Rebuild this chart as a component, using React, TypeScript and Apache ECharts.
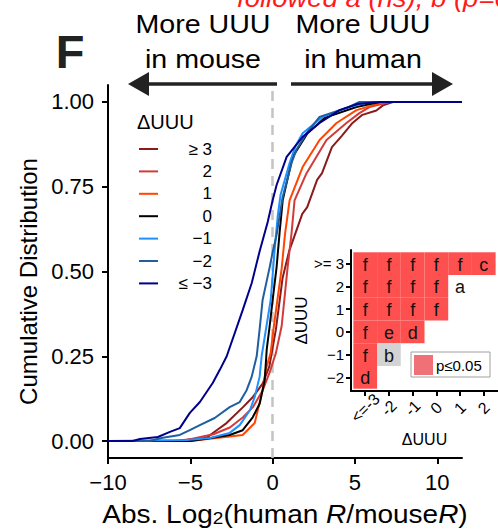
import React, { useEffect, useRef } from 'react';
import * as echarts from 'echarts';

const FONT = '"Liberation Sans", Arial, Helvetica, sans-serif';

// ECDF curves (x = Abs. Log2(human R / mouse R), y = cumulative fraction)
const groupLabels = ['≥ 3', '2', '1', '0', '−1', '−2', '≤ −3'];
const groupColors = ['#8B1A1A', '#D33A3A', '#FF4500', '#000000', '#1E90FF', '#1F5FA0', '#00008B'];

const ge3X = [-10, -6, -4, -3.4, -2.8, -1.8, -1.2, -0.6, -0.2, 0.2, 0.6, 1.0, 1.8, 2.1, 2.7, 3.0, 3.6, 4.2, 4.85, 5.45, 6.3, 6.7, 7.3, 11.5];
const ge3Y = [0, 0, 0.01, 0.032, 0.053, 0.1, 0.13, 0.17, 0.22, 0.33, 0.48, 0.56, 0.67, 0.69, 0.77, 0.79, 0.867, 0.9, 0.938, 0.962, 0.975, 0.99, 1, 1];

const p2X = [-10, -5.5, -3.6, -2.6, -1.8, -1.2, -0.6, -0.2, 0.2, 0.55, 0.91, 1.15, 1.33, 2.06, 3.27, 4.48, 5.27, 5.88, 7.1, 11.5];
const p2Y = [0, 0, 0.02, 0.04, 0.07, 0.1, 0.15, 0.2, 0.26, 0.34, 0.513, 0.614, 0.71, 0.79, 0.888, 0.938, 0.967, 0.985, 1, 1];

const p1X = [-10, -5, -1.82, -1.09, -0.61, -0.42, -0.12, 0.05, 0.3, 0.55, 0.75, 1.03, 1.82, 2.85, 3.88, 5.09, 6.8, 11.5];
const p1Y = [0, 0, 0.018, 0.053, 0.15, 0.21, 0.26, 0.33, 0.42, 0.51, 0.61, 0.71, 0.808, 0.888, 0.938, 0.976, 1, 1];

const z0X = [-10, -5.0, -3.64, -2.61, -1.82, -1.21, -0.79, -0.48, -0.36, -0.18, 0, 0.24, 0.42, 0.61, 1.21, 2.12, 3.15, 5.09, 6.5, 11.5];
const z0Y = [0, 0, 0.01, 0.018, 0.032, 0.07, 0.11, 0.18, 0.27, 0.34, 0.416, 0.513, 0.614, 0.71, 0.838, 0.908, 0.953, 0.985, 1, 1];

const m1X = [-10, -5.21, -3.82, -2.61, -2.0, -1.39, -1.09, -0.79, -0.67, -0.12, 0.12, 0.30, 0.48, 1.03, 1.39, 1.82, 3.03, 4.67, 5.9, 11.5];
const m1Y = [0, 0.003, 0.009, 0.024, 0.047, 0.09, 0.13, 0.19, 0.25, 0.416, 0.563, 0.66, 0.726, 0.82, 0.87, 0.908, 0.956, 0.985, 1, 1];

const m2X = [-10, -7.5, -6.67, -5.64, -5.03, -4.42, -3.52, -2.61, -2.0, -1.58, -1.27, -0.97, -0.79, -0.61, -0.18, 0, 0.24, 0.61, 1.15, 1.45, 2.06, 2.85, 4.48, 5.27, 11.5];
const m2Y = [0, 0, 0.01, 0.018, 0.032, 0.047, 0.068, 0.10, 0.115, 0.15, 0.19, 0.25, 0.33, 0.416, 0.513, 0.557, 0.608, 0.72, 0.82, 0.86, 0.908, 0.956, 0.982, 1, 1];

const le3X = [-10, -8.5, -8.06, -6.97, -6.24, -5.64, -5.03, -4.42, -3.64, -3.21, -2.79, -1.82, -1.27, -0.79, -0.30, 0, 0.24, 0.85, 1.82, 2.85, 4.06, 5.15, 6.5, 11.5];
const le3Y = [0, 0, 0.006, 0.012, 0.027, 0.038, 0.083, 0.115, 0.171, 0.21, 0.25, 0.386, 0.466, 0.56, 0.646, 0.71, 0.755, 0.838, 0.897, 0.938, 0.976, 0.994, 1, 1];

const curveXs = [ge3X, p2X, p1X, z0X, m1X, m2X, le3X];
const curveYs = [ge3Y, p2Y, p1Y, z0Y, m1Y, m2Y, le3Y];

const mainXTicks = [-10, -5, 0, 5, 10];
const mainYTicks = [0, 0.25, 0.5, 0.75, 1];

// Inset: pairwise comparison letters
const insetXLabels = ['<=-3', '-2', '-1', '0', '1', '2'];
const insetYLabels = ['−2', '−1', '0', '1', '2', '>= 3'];
const insetCells: [string, string, string, string][] = [
  ['<=-3', '>= 3', 'f', 'sig'], ['-2', '>= 3', 'f', 'sig'], ['-1', '>= 3', 'f', 'sig'], ['0', '>= 3', 'f', 'sig'], ['1', '>= 3', 'f', 'sig'], ['2', '>= 3', 'c', 'sig'],
  ['<=-3', '2', 'f', 'sig'], ['-2', '2', 'f', 'sig'], ['-1', '2', 'f', 'sig'], ['0', '2', 'f', 'sig'], ['1', '2', 'a', 'ns'],
  ['<=-3', '1', 'f', 'sig'], ['-2', '1', 'f', 'sig'], ['-1', '1', 'f', 'sig'], ['0', '1', 'f', 'sig'],
  ['<=-3', '0', 'f', 'sig'], ['-2', '0', 'e', 'sig'], ['-1', '0', 'd', 'sig'],
  ['<=-3', '−1', 'f', 'sig'], ['-2', '−1', 'b', 'grey'],
  ['<=-3', '−2', 'd', 'sig'],
];
const insetIdx = [0, 1, 2, 3, 4, 5];

const SIG_RED = '#FF5050';
const GREY = '#D3D3D3';

export default function App() {
  const ref = useRef<HTMLDivElement>(null);
  useEffect(() => {
    if (!ref.current) return;
    const chart = echarts.init(ref.current, undefined, { renderer: 'svg' });

    const curveSeries = groupLabels.map((name, i) => ({
      type: 'line',
      name,
      xAxisIndex: 0,
      yAxisIndex: 0,
      data: curveXs[i].map((x, k) => [x, curveYs[i][k]]),
      showSymbol: false,
      symbol: 'none',
      lineStyle: { color: groupColors[i], width: 2 },
      z: 3,
      silent: true,
    }));

    const legendGraphics: any[] = [];
    legendGraphics.push({
      type: 'text', x: 137, y: 122,
      style: { text: 'ΔUUU', font: `20px ${FONT}`, fill: '#000', align: 'left', verticalAlign: 'middle' },
    });
    groupLabels.forEach((lab, i) => {
      const yy = 149 + i * 22.4;
      legendGraphics.push({
        type: 'line', shape: { x1: 139, y1: yy, x2: 158, y2: yy },
        style: { stroke: groupColors[i], lineWidth: 2 },
      });
      legendGraphics.push({
        type: 'text', x: 212, y: yy,
        style: { text: lab, font: `17px ${FONT}`, fill: '#000', align: 'right', verticalAlign: 'middle' },
      });
    });

    const bigText = (t: string, x: number, y: number) => ({
      type: 'text', x, y, scaleX: 1.1,
      style: { text: t, font: `26px ${FONT}`, fill: '#000', align: 'center', verticalAlign: 'middle' },
    });

    const option: any = {
      animation: false,
      backgroundColor: '#ffffff',
      textStyle: { fontFamily: FONT },
      grid: [
        { left: 108, top: 85, width: 354, height: 373 },
        { left: 351, top: 250, width: 151, height: 141 },
      ],
      xAxis: [
        {
          type: 'value', gridIndex: 0, min: -10, max: 11.5,
          axisLine: { onZero: false, lineStyle: { color: '#000', width: 2 } },
          axisTick: { customValues: mainXTicks, length: 6, lineStyle: { color: '#000', width: 2 } },
          axisLabel: {
            customValues: mainXTicks, fontSize: 22, color: '#000', margin: 13, fontFamily: FONT,
            formatter: (v: number) => String(v).replace('-', '−'),
          },
          splitLine: { show: false },
        },
        {
          type: 'value', gridIndex: 1, min: -0.6, max: 5.6,
          axisLine: { onZero: false, lineStyle: { color: '#000', width: 2 } },
          axisTick: { customValues: insetIdx, length: 5, lineStyle: { color: '#000', width: 2 } },
          axisLabel: {
            customValues: insetIdx, fontSize: 16, color: '#000', margin: 17, rotate: 45, align: 'center',
            fontFamily: FONT,
            formatter: (v: number) => insetXLabels[Math.round(v)] ?? '',
          },
          splitLine: { show: false },
          name: 'ΔUUU', nameLocation: 'middle', nameGap: 40,
          nameTextStyle: { fontSize: 16, color: '#000', fontFamily: FONT },
        },
      ],
      yAxis: [
        {
          type: 'value', gridIndex: 0, min: -0.05, max: 1.05,
          axisLine: { onZero: false, lineStyle: { color: '#000', width: 2 } },
          axisTick: { customValues: mainYTicks, length: 6, lineStyle: { color: '#000', width: 2 } },
          axisLabel: {
            customValues: mainYTicks, fontSize: 22, color: '#000', margin: 14, fontFamily: FONT,
            formatter: (v: number) => v.toFixed(2),
          },
          splitLine: { show: false },
          name: 'Cumulative Distribution', nameLocation: 'middle', nameGap: 66,
          nameTextStyle: { fontSize: 24, color: '#000', fontFamily: FONT, padding: [0, 20, 0, 0] },
        },
        {
          type: 'value', gridIndex: 1, min: -0.6, max: 5.6,
          axisLine: { onZero: false, lineStyle: { color: '#000', width: 2 } },
          axisTick: { customValues: insetIdx, length: 5, lineStyle: { color: '#000', width: 2 } },
          axisLabel: {
            customValues: insetIdx, fontSize: 15, color: '#000', margin: 7, fontFamily: FONT,
            formatter: (v: number) => insetYLabels[Math.round(v)] ?? '',
          },
          splitLine: { show: false },
          name: 'ΔUUU', nameLocation: 'middle', nameGap: 39,
          nameTextStyle: { fontSize: 17, color: '#000', fontFamily: FONT },
        },
      ],
      series: [
        {
          type: 'line', xAxisIndex: 0, yAxisIndex: 0, data: [], z: 1, silent: true,
          markLine: {
            silent: true, symbol: ['none', 'none'], label: { show: false },
            lineStyle: { color: '#C4C4C4', type: [10, 7], width: 2.5 },
            data: [{ xAxis: 0 }],
            z: 1,
          },
        },
        ...curveSeries,
        {
          type: 'custom', xAxisIndex: 1, yAxisIndex: 1, z: 10, silent: true,
          data: insetCells.map((c) => [insetXLabels.indexOf(c[0]), insetYLabels.indexOf(c[1])]),
          encode: { x: 0, y: 1 },
          renderItem: (params: any, api: any) => {
            const cell = insetCells[params.dataIndex];
            const c = api.coord([api.value(0), api.value(1)]);
            const s = api.size([1, 1]);
            const fill = cell[3] === 'sig' ? SIG_RED : cell[3] === 'grey' ? GREY : 'rgba(255,255,255,0)';
            return {
              type: 'group',
              children: [
                {
                  type: 'rect',
                  shape: { x: c[0] - s[0] / 2, y: c[1] - s[1] / 2, width: s[0], height: s[1] },
                  style: { fill },
                },
                {
                  type: 'text', x: c[0], y: c[1] + 1,
                  style: { text: cell[2], font: `18px ${FONT}`, fill: '#111', align: 'center', verticalAlign: 'middle' },
                },
              ],
            };
          },
        },
      ],
      graphic: [
        {
          type: 'text', x: 237, y: -2, scaleX: 1.1,
          style: { text: 'followed a (ns), b (p=0.05)', font: `italic 25px ${FONT}`, fill: '#FF1A1A', align: 'left', verticalAlign: 'middle' },
        },
        {
          type: 'text', x: 70, y: 51,
          style: { text: 'F', font: `bold 47px ${FONT}`, fill: '#222', align: 'center', verticalAlign: 'middle' },
        },
        bigText('More UUU', 203, 24),
        bigText('in mouse', 203, 59),
        bigText('More UUU', 363, 24),
        bigText('in human', 363, 59),
        { type: 'line', shape: { x1: 277, y1: 84, x2: 145, y2: 84 }, style: { stroke: '#222', lineWidth: 3.5 } },
        { type: 'polygon', shape: { points: [[128, 84], [149, 72], [149, 96]] }, style: { fill: '#222' } },
        { type: 'line', shape: { x1: 291, y1: 84, x2: 436, y2: 84 }, style: { stroke: '#222', lineWidth: 3.5 } },
        { type: 'polygon', shape: { points: [[453, 84], [432, 72], [432, 96]] }, style: { fill: '#222' } },
        {
          type: 'text', x: 285, y: 512, scaleX: 1.12,
          style: {
            text: '{a|Abs. Log}{s|2}{a|(human }{i|R}{a|/mouse}{i|R}{a|)}',
            align: 'center', verticalAlign: 'middle',
            rich: {
              a: { fontSize: 25, fontFamily: FONT, fill: '#000', lineHeight: 30, verticalAlign: 'bottom' },
              i: { fontSize: 25, fontFamily: FONT, fill: '#000', fontStyle: 'italic', lineHeight: 30, verticalAlign: 'bottom' },
              s: { fontSize: 17, fontFamily: FONT, fill: '#000', lineHeight: 17, verticalAlign: 'bottom' },
            },
          },
        },
        ...legendGraphics,
        // inset significance legend
        { type: 'rect', z: 20, shape: { x: 411, y: 352, width: 79, height: 25 }, style: { fill: '#fff', stroke: '#A0A0A0', lineWidth: 1 } },
        { type: 'rect', z: 21, shape: { x: 414, y: 355, width: 19, height: 20 }, style: { fill: '#F07077' } },
        { type: 'text', z: 21, x: 436, y: 365, style: { text: 'p≤0.05', font: `15px ${FONT}`, fill: '#000', align: 'left', verticalAlign: 'middle' } },
      ],
    };

    chart.setOption(option);
    return () => chart.dispose();
  }, []);

  return <div ref={ref} style={{ position: 'fixed', left: 0, top: 0, width: 498, height: 531 }} />;
}
